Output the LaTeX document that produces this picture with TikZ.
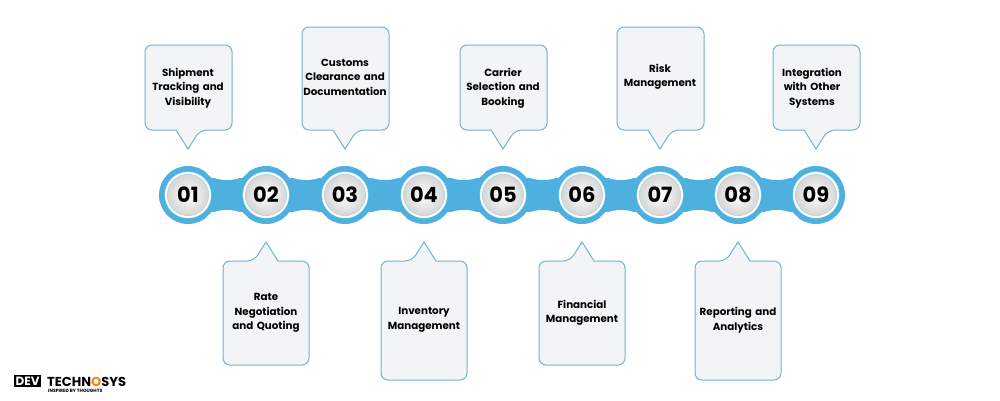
\documentclass[tikz,border=0pt]{standalone}
\usepackage{fontspec}
\setmainfont{Poppins}
\begin{document}
\begin{tikzpicture}[x=1pt,y=-1pt,
  band/.style={fill=bandblue},
  callout/.style={fill=boxfill,draw=boxline,line width=1pt},
  lbl/.style={font=\bfseries\fontsize{10.3}{14.5}\selectfont,align=center,text width=84pt},
  num/.style={circle,minimum size=44pt,inner sep=0pt,draw=bandblue!60,line width=0.5pt,double=white,double distance=2pt,
     shade,inner color=white,outer color=gray!35,font=\bfseries\fontsize{21}{21}\selectfont}]
\definecolor{bandblue}{HTML}{4DB0DE}
\definecolor{boxfill}{HTML}{F3F4F6}
\definecolor{boxline}{HTML}{6FB3D8}
\useasboundingbox (0,0) rectangle (1000,400);
\fill[white] (0,0) rectangle (1000,400);
% band
\fill[band] (188,178) rectangle (816,212);
\foreach \x in {188,266,345,424,503,582,660,738,816}{\fill[band] (\x,195) circle (29);}
\foreach \x in {227,306,385,464,543,621,699,777}{
  \fill[white] (\x,169) ellipse (22 and 11);
  \fill[white] (\x,221) ellipse (22 and 11);}
% numbers
\foreach \x/\n in {188/01,266/02,345/03,424/04,503/05,582/06,660/07,738/08,816/09}{
  \node[num] (n\n) at (\x,195) {\n};}
% top callouts
\foreach \c/\t/\i in {188/45/1,345/27/3,503/45/5,660/27/7,816/45/9}{
  \draw[callout] [rounded corners=7] (\c-12,130) -- (\c-43,130) -- (\c-43,\t) -- (\c+44,\t) -- (\c+44,130) -- (\c+12,130) [sharp corners] -- (\c,149) -- cycle;
  \coordinate (tip\i) at (\c,149);}
% bottom callouts
\foreach \c/\b/\i in {266/365/2,424/380/4,582/365/6,738/380/8}{
  \draw[callout] [rounded corners=7] (\c+12,261) -- (\c+43,261) -- (\c+43,\b) -- (\c-43,\b) -- (\c-43,261) -- (\c-12,261) [sharp corners] -- (\c,242) -- cycle;
  \coordinate (tip\i) at (\c,242);}
\node[lbl] (t1) at (188,88) {Shipment\\Tracking and\\Visibility};
\node[lbl] (t3) at (345,77) {Customs\\Clearance and\\Documentation};
\node[lbl] (t5) at (503,88) {Carrier\\Selection and\\Booking};
\node[lbl] (t7) at (660,77) {Risk\\Management};
\node[lbl] (t9) at (812,88) {Integration\\with Other\\Systems};
\node[lbl] (t2) at (266,313) {Rate\\Negotiation\\and Quoting};
\node[lbl] (t4) at (424,320) {Inventory\\Management};
\node[lbl] (t6) at (582,313) {Financial\\Management};
\node[lbl] (t8) at (738,320) {Reporting and\\Analytics};
% logo
\node[fill=black,text=white,font=\bfseries\fontsize{12}{12}\selectfont,inner sep=1.5pt,anchor=west] (dev) at (14,381) {DEV};
\node[font=\bfseries\fontsize{13}{13}\selectfont,inner sep=0pt,anchor=south west] (tech) at (47,387) {TECHN{\color{orange}O}SYS};
\node[font=\bfseries\fontsize{4.6}{4.6}\selectfont,inner sep=0pt,anchor=north west] (insp) at (48,389) {INSPIRED BY THOUGHTS};
\end{tikzpicture}
\end{document}
